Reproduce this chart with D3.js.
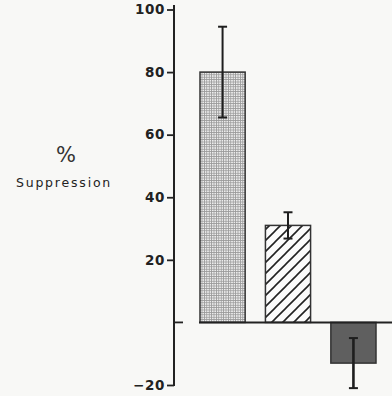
<!DOCTYPE html>
<html>
<head>
<meta charset="utf-8">
<script src="https://cdn.jsdelivr.net/npm/d3@7"></script>
<style>
  html, body { margin: 0; padding: 0; background: #f8f8f6; }
  svg { display: block; }
</style>
</head>
<body>
<div id="chart"></div>
<script>
const WIDTH = 392;
const HEIGHT = 396;

const categories = ["A", "B", "C"];
const values = [80, 31, -13];
const errors = [14.5, 4.2, 8];
const fills = ["url(#grid)", "url(#hatch)", "#5f5f5f"];
const tickValues = [-20, 20, 40, 60, 80, 100];

const svg = d3
  .select("#chart")
  .append("svg")
  .attr("width", WIDTH)
  .attr("height", HEIGHT);

svg.append("rect").attr("width", WIDTH).attr("height", HEIGHT).attr("fill", "#f8f8f6");

const defs = svg.append("defs");

const grid = defs
  .append("pattern")
  .attr("id", "grid")
  .attr("patternUnits", "userSpaceOnUse")
  .attr("width", 2.4)
  .attr("height", 2.4);
grid.append("rect").attr("width", 2.4).attr("height", 2.4).attr("fill", "#ececec");
grid.append("path").attr("d", "M0,0.4H2.4M0.4,0V2.4").attr("stroke", "#9a9a9a").attr("stroke-width", 0.8);

const hatch = defs
  .append("pattern")
  .attr("id", "hatch")
  .attr("patternUnits", "userSpaceOnUse")
  .attr("width", 11)
  .attr("height", 11);
hatch.append("rect").attr("width", 11).attr("height", 11).attr("fill", "#fbfbfb");
hatch
  .append("path")
  .attr("d", "M0,11L11,0M-2,2L2,-2M9,13L13,9")
  .attr("stroke", "#222")
  .attr("stroke-width", 1.6);

const axisX = 174;

const y = d3.scaleLinear().domain([-20, 100]).range([385, 9.5]);

const x = d3
  .scaleBand()
  .domain(categories)
  .range([200, 376])
  .paddingInner(0.31)
  .paddingOuter(0);

// y axis
const yAxis = d3
  .axisLeft(y)
  .tickValues(tickValues)
  .tickSize(7)
  .tickPadding(2)
  .tickFormat((d) => (d < 0 ? "\u2212" + Math.abs(d) : d));

svg
  .append("g")
  .attr("transform", `translate(${axisX},0)`)
  .call(yAxis)
  .call((g) => g.select(".domain").remove())
  .call((g) => g.selectAll("line").attr("stroke", "#222").attr("stroke-width", 1.8))
  .call((g) =>
    g
      .selectAll("text")
      .attr("fill", "#222")
      .attr("font-family", "DejaVu Sans, sans-serif")
      .attr("font-weight", "bold")
      .attr("font-size", 13.5)
      .attr("letter-spacing", 0.6)
  );

svg
  .append("line")
  .attr("x1", axisX)
  .attr("x2", axisX)
  .attr("y1", 5)
  .attr("y2", y(-20) + 1)
  .attr("stroke", "#222")
  .attr("stroke-width", 2);

// zero tick points right
svg
  .append("line")
  .attr("x1", axisX)
  .attr("x2", axisX + 9)
  .attr("y1", y(0))
  .attr("y2", y(0))
  .attr("stroke", "#222")
  .attr("stroke-width", 1.8);

// bars
svg
  .append("g")
  .selectAll("rect")
  .data(values)
  .join("rect")
  .attr("x", (d, i) => x(categories[i]))
  .attr("width", x.bandwidth())
  .attr("y", (d) => y(Math.max(0, d)))
  .attr("height", (d) => Math.abs(y(d) - y(0)))
  .attr("fill", (d, i) => fills[i])
  .attr("stroke", "#333")
  .attr("stroke-width", 1.5);

// baseline
svg
  .append("line")
  .attr("x1", 199)
  .attr("x2", WIDTH)
  .attr("y1", y(0))
  .attr("y2", y(0))
  .attr("stroke", "#222")
  .attr("stroke-width", 2);

// error bars
const err = svg.append("g").attr("stroke", "#1e1e1e");
values.forEach((v, i) => {
  const cx = x(categories[i]) + x.bandwidth() / 2;
  const hi = y(v + errors[i]);
  const lo = y(v - errors[i]);
  err.append("line").attr("x1", cx).attr("x2", cx).attr("y1", hi).attr("y2", lo).attr("stroke-width", i === 2 ? 2.6 : 2);
  [hi, lo].forEach((yy) => {
    err.append("line").attr("x1", cx - 4.5).attr("x2", cx + 4.5).attr("y1", yy).attr("y2", yy).attr("stroke-width", 2);
  });
});

// y label
svg
  .append("text")
  .attr("x", 66)
  .attr("y", 162)
  .attr("text-anchor", "middle")
  .attr("font-family", "DejaVu Sans, sans-serif")
  .attr("font-size", 21)
  .attr("fill", "#333")
  .text("%");

svg
  .append("text")
  .attr("x", 64)
  .attr("y", 187)
  .attr("text-anchor", "middle")
  .attr("font-family", "DejaVu Sans, sans-serif")
  .attr("font-size", 12.5)
  .attr("letter-spacing", 1.8)
  .attr("fill", "#222")
  .text("Suppression");
</script>
</body>
</html>
